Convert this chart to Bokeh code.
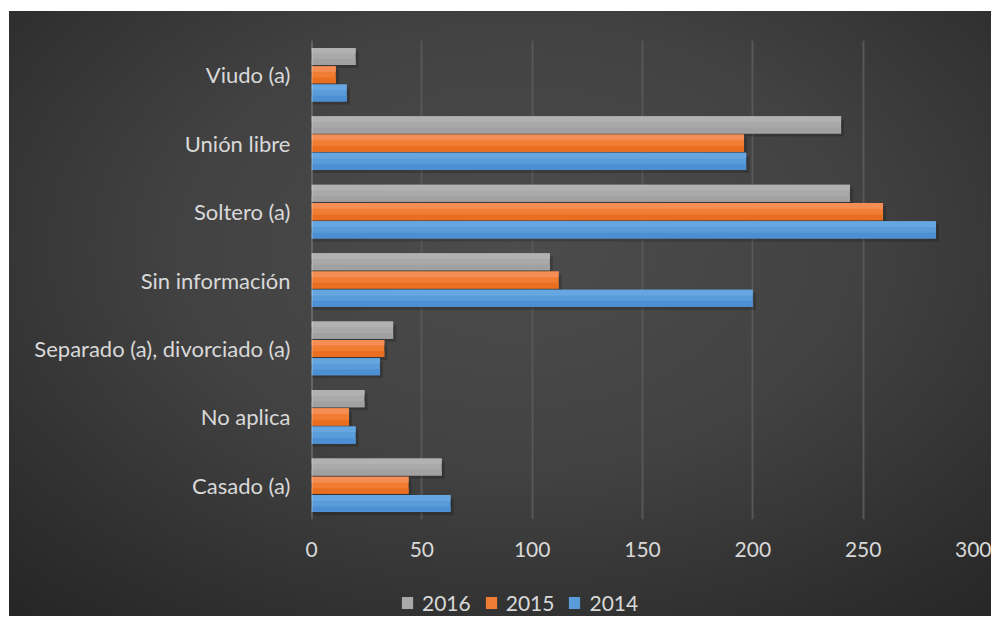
from bokeh.plotting import figure
from bokeh.layouts import column
from bokeh.models import ColumnDataSource, FactorRange, Range1d, FixedTicker, Span, Legend, LegendItem
from bokeh.transform import dodge
from bokeh.embed import file_html
from bokeh.resources import INLINE

categories = ["Casado (a)", "No aplica", "Separado (a), divorciado (a)", "Sin información",
              "Soltero (a)", "Unión libre", "Viudo (a)"]
v2016 = [59, 24, 37, 108, 244, 240, 20]
v2015 = [44, 17, 33, 112, 259, 196, 11]
v2014 = [63, 20, 31, 200, 283, 197, 16]
years = ["2016", "2015", "2014"]
colors = ["#a9a9a9", "#f07d33", "#5a9cda"]
light = ["#b1b1b1", "#f48e54", "#67a7e1"]
dark = ["#a1a1a1", "#ea6e1f", "#4c90d3"]
x_ticks = [0, 50, 100, 150, 200, 250, 300]

src = ColumnDataSource(dict(cat=categories, y2016=v2016, y2015=v2015, y2014=v2014))

FONT = "Lato"
TXT = "#d9d9d9"

p = figure(width=991, height=578, y_range=FactorRange(*categories), x_range=Range1d(0, 300),
           output_backend="svg", toolbar_location=None,
           min_border_left=311, min_border_right=18, min_border_top=40, min_border_bottom=59)
p.background_fill_alpha = 0
p.border_fill_alpha = 0
p.outline_line_color = None

offsets = [0.267, 0.0, -0.267]
H = 0.25
# soft shadows
for yr, off in zip(years, offsets):
    p.hbar(y=dodge("cat", off - 0.045, range=p.y_range), right=dodge("y" + yr, 1.4), left=0.5,
           height=H, source=src, fill_color="#000000", fill_alpha=0.18, line_color=None)
# bars: solid fill, with a lighter top band and darker bottom band to suggest the gradient
for yr, col, lt, dk, off in zip(years, colors, light, dark, offsets):
    p.hbar(y=dodge("cat", off, range=p.y_range), right="y" + yr, left=0, height=H,
           source=src, fill_color=col, line_color=None)
    p.hbar(y=dodge("cat", off + H / 3, range=p.y_range), right="y" + yr, left=0, height=H / 3,
           source=src, fill_color=lt, line_color=None)
    p.hbar(y=dodge("cat", off - H / 3, range=p.y_range), right="y" + yr, left=0, height=H / 3,
           source=src, fill_color=dk, line_color=None)

p.add_layout(Span(location=0, dimension="height", line_color="#ffffff", line_alpha=0.35, line_width=2))

p.xgrid.ticker = FixedTicker(ticks=x_ticks)
p.xaxis.ticker = FixedTicker(ticks=x_ticks)
p.xgrid.grid_line_color = "#575757"
p.xgrid.grid_line_width = 2
p.ygrid.grid_line_color = None

for ax in (p.xaxis, p.yaxis):
    ax.axis_line_color = None
    ax.major_tick_line_color = None
    ax.minor_tick_line_color = None
    ax.major_label_text_color = TXT
    ax.major_label_text_font = FONT
    ax.major_label_text_font_size = "21px"
p.yaxis.major_label_text_font_size = "22px"
p.xaxis.major_label_standoff = 16
p.yaxis.major_label_standoff = 15

# legend strip below the chart (its frame is aligned with the chart's frame by the column layout)
lg = figure(width=991, height=38, output_backend="svg", toolbar_location=None,
            x_range=Range1d(0, 1), y_range=Range1d(0, 1),
            x_axis_location=None, y_axis_location=None,
            min_border_left=0, min_border_right=0, min_border_top=0, min_border_bottom=0)
lg.background_fill_alpha = 0
lg.border_fill_alpha = 0
lg.outline_line_color = None
lg.grid.visible = False
items = []
for yr, col in zip(years, colors):
    r = lg.hbar(y=[-5], right=[-5], left=[-5], height=0.25, fill_color=col, line_color=None)
    items.append(LegendItem(label=yr, renderers=[r]))
legend = Legend(items=items, orientation="horizontal", location=(89, 1),
                background_fill_alpha=0, border_line_color=None,
                label_text_color=TXT, label_text_font=FONT, label_text_font_size="21px",
                glyph_width=14, glyph_height=15, spacing=13, label_standoff=8, padding=0, margin=0)
lg.add_layout(legend, "center")

layout = column(p, lg, spacing=0)
layout.styles = {"background":
                 "linear-gradient(#ffffff,#ffffff) top left / 100% 11px no-repeat, "
                 "linear-gradient(#ffffff,#ffffff) top left / 9px 100% no-repeat, "
                 "radial-gradient(ellipse 75% 80% at 52% 40%, #4c4c4c 0%, #424242 45%, #2d2d2d 85%, #262626 100%)"}

open("out.html", "w").write(file_html(layout, INLINE))
